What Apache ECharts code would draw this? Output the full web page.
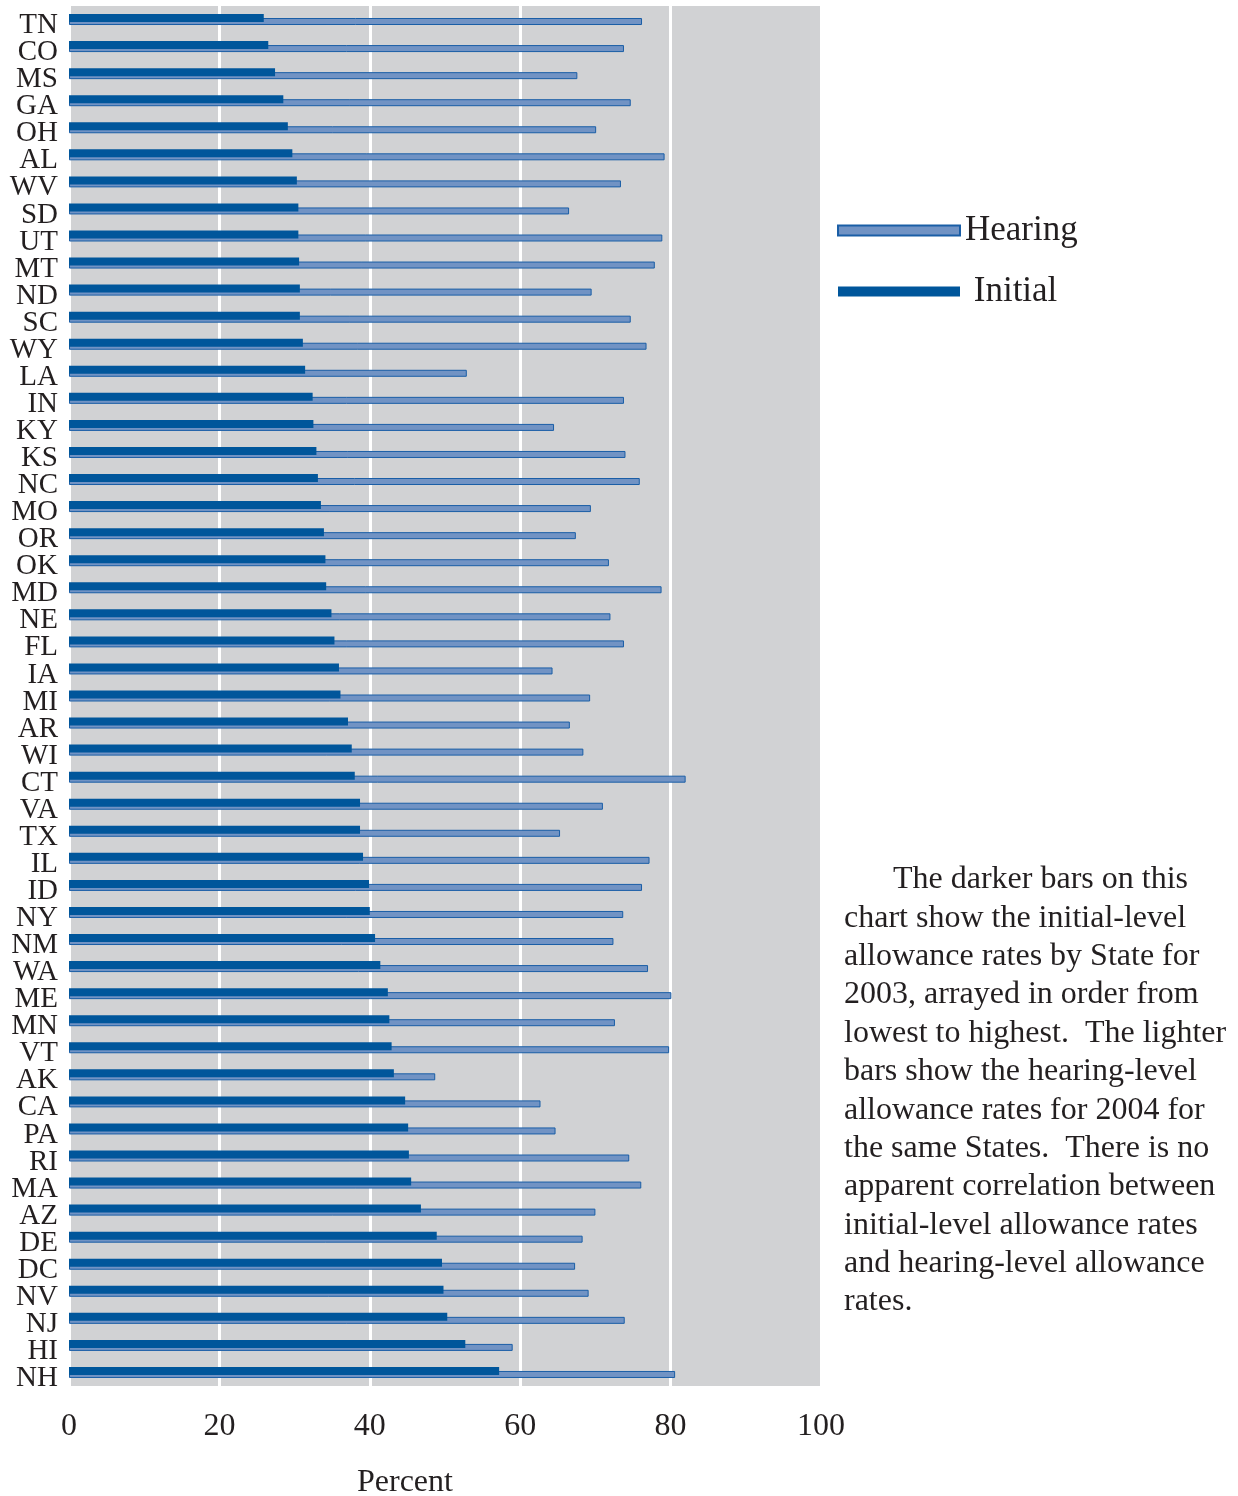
<!DOCTYPE html>
<html>
<head>
<meta charset="utf-8">
<script src="https://cdn.jsdelivr.net/npm/echarts@6/dist/echarts.min.js"></script>
<style>
  html, body { margin: 0; padding: 0; background: #fff; }
  #chart { width: 1238px; height: 1496px; }
</style>
</head>
<body>
<div id="chart"></div>
<script>
// States, ordered by the 2003 initial-level allowance rate (lowest first)
const states = ['TN','CO','MS','GA','OH','AL','WV','SD','UT','MT','ND','SC','WY','LA','IN','KY','KS','NC','MO','OR',
  'OK','MD','NE','FL','IA','MI','AR','WI','CT','VA','TX','IL','ID','NY','NM','WA','ME','MN','VT','AK',
  'CA','PA','RI','MA','AZ','DE','DC','NV','NJ','HI','NH'];

// Initial-level allowance rates, 2003 (darker bars)
const initialRates = [25.9, 26.5, 27.4, 28.5, 29.1, 29.7, 30.3, 30.5, 30.5, 30.6, 30.7, 30.7, 31.1, 31.4, 32.4, 32.5, 32.9, 33.1, 33.5, 33.9,
  34.1, 34.2, 34.9, 35.3, 35.9, 36.1, 37.1, 37.6, 38.0, 38.7, 38.7, 39.1, 39.9, 40.0, 40.7, 41.4, 42.4, 42.6, 42.9, 43.2,
  44.7, 45.1, 45.2, 45.5, 46.8, 48.9, 49.6, 49.8, 50.3, 52.7, 57.2];

// Hearing-level allowance rates, 2004 (lighter bars)
const hearingRates = [76.2, 73.8, 67.6, 74.7, 70.1, 79.2, 73.4, 66.5, 78.9, 77.9, 69.5, 74.7, 76.8, 52.9, 73.8, 64.5, 74.0, 75.9, 69.4, 67.4,
  71.8, 78.8, 72.0, 73.8, 64.3, 69.3, 66.6, 68.4, 82.0, 71.0, 65.3, 77.2, 76.2, 73.7, 72.4, 77.0, 80.1, 72.6, 79.8, 48.7,
  62.7, 64.7, 74.5, 76.1, 70.0, 68.3, 67.3, 69.1, 73.9, 59.0, 80.6];

const xTicks = [0, 20, 40, 60, 80, 100];

const noteLines = [
  'The darker bars on this',
  'chart show the initial-level',
  'allowance rates by State for',
  '2003, arrayed in order from',
  'lowest to highest.  The lighter',
  'bars show the hearing-level',
  'allowance rates for 2004 for',
  'the same States.  There is no',
  'apparent correlation between',
  'initial-level allowance rates',
  'and hearing-level allowance',
  'rates.'
];

const SERIF = '"Liberation Serif", "Times New Roman", serif';
const TEXT = '#231f20';
const DARK = '#00569b';
const LIGHT = '#7193c4';
const LIGHT_EDGE = '#1a5ea6';

(function () {
  const chart = echarts.init(document.getElementById('chart'), null, { renderer: 'canvas' });

  // paragraph at the right, one text element per printed line
  const noteGraphics = noteLines.map((line, i) => ({
    type: 'text',
    left: i === 0 ? 893 : 844,
    top: 882 + i * 38.36 - 18,
    style: { text: line, fontFamily: SERIF, fontSize: 32, fill: TEXT }
  }));

  const opt = {
    backgroundColor: '#ffffff',
    animation: false,
    grid: {
      left: 69, right: 417, top: 6, bottom: 110,
      show: true, backgroundColor: '#d1d2d4', borderWidth: 0
    },
    legend: {
      data: ['Hearing', 'Initial'],
      orient: 'vertical',
      left: 837, top: 213, padding: 0,
      itemWidth: 122, itemHeight: 10, itemGap: 26,
      icon: 'rect',
      formatter: n => (n === 'Initial' ? ' ' + n : n),
      textStyle: { fontFamily: SERIF, fontSize: 35, color: TEXT }
    },
    xAxis: {
      type: 'value', min: xTicks[0], max: xTicks[xTicks.length - 1], interval: 20,
      axisLine: { show: false }, axisTick: { show: false },
      splitLine: { show: true, lineStyle: { color: '#ffffff', width: 3 } },
      axisLabel: { fontFamily: SERIF, fontSize: 32, color: TEXT, margin: 25 }
    },
    yAxis: {
      type: 'category', data: states, inverse: true,
      axisLine: { show: false }, axisTick: { show: false },
      splitLine: { show: false },
      // labels sit a little below the band centre in the original
      axisLabel: {
        fontFamily: SERIF, fontSize: 29, color: TEXT, margin: 11, interval: 0,
        verticalAlign: 'top', lineHeight: 12
      }
    },
    series: [
      {
        name: 'Initial', type: 'bar', data: initialRates,
        barWidth: 8, barGap: '-50%', z: 3,
        itemStyle: { color: DARK }
      },
      {
        name: 'Hearing', type: 'bar', data: hearingRates,
        barWidth: 7, z: 2,
        itemStyle: { color: LIGHT, borderColor: LIGHT_EDGE, borderWidth: 1 }
      }
    ],
    graphic: [
      {
        type: 'text', left: 357, top: 1467,
        style: { text: 'Percent', fontFamily: SERIF, fontSize: 32, fill: TEXT }
      }
    ].concat(noteGraphics)
  };

  chart.setOption(opt);
})();
</script>
</body>
</html>
